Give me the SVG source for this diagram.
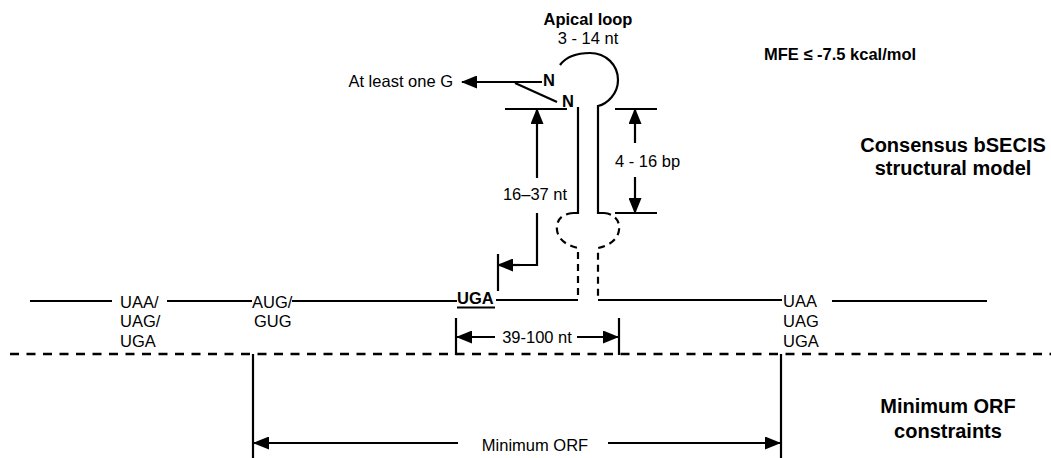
<svg xmlns="http://www.w3.org/2000/svg" width="1051" height="458" viewBox="0 0 1051 458">
<style>
text{font-family:"Liberation Sans",Arial,sans-serif;fill:#000}
.t{font-size:16.5px}
.b{font-size:16.5px;font-weight:bold}
.h{font-size:20px;font-weight:bold}
.m{text-anchor:middle}
.ln{stroke:#000;stroke-width:2.2;fill:none}
.dl{stroke:#000;stroke-width:2.2;fill:none;stroke-dasharray:7 5}
.sep{stroke:#000;stroke-width:2.5;fill:none;stroke-dasharray:9 7.5}
.ar{stroke:#000;stroke-width:2.2;fill:none;marker-end:url(#ah)}
</style>
<defs>
<marker id="ah" viewBox="0 0 16 13" markerWidth="16" markerHeight="13" refX="15" refY="6.5" orient="auto" markerUnits="userSpaceOnUse">
<path d="M0,0 L16,6.5 L0,13 z" fill="#000"/>
</marker>
</defs>
<rect width="1051" height="458" fill="#fff"/>

<g id="sequence-line">
<path class="ln" d="M30,301 H112 M167,301 H252 M292,301 H457 M496,300 H578 M598,300 H782 M832,301 H987"/>
</g>

<g id="hairpin">
<path class="ln" d="M560,65 C566,57 577,53 590,53 C606,53 618,65 618,80 C618,94 607,104 598,106 V213 H604"/>
<path class="ln" d="M578,107 V213 H573"/>
<path class="dl" d="M573,213 C560,214 556,222 557,230 C558,240 568,246 578,248 V300"/>
<path class="dl" d="M604,213 C616,214 620,222 619,230 C618,240 608,246 598,248 V300"/>
</g>

<g id="apical-loop-label">
<text class="b m" x="588" y="25">Apical loop</text>
<text class="t m" x="588" y="44">3 - 14 nt</text>
</g>

<g id="mfe-label">
<text class="b" x="764" y="60">MFE ≤ -7.5 kcal/mol</text>
</g>

<g id="nucleotides">
<text class="b" x="543" y="86">N</text>
<text class="b" x="562" y="107">N</text>
<text class="t" x="453" y="87" text-anchor="end">At least one G</text>
</g>

<g id="stop-codons-left">
<text class="t" x="120" y="308">UAA/</text>
<text class="t" x="120" y="327">UAG/</text>
<text class="t" x="120" y="347">UGA</text>
</g>

<g id="start-codons">
<text class="t" x="252" y="308">AUG/</text>
<text class="t" x="254" y="327">GUG</text>
</g>

<g id="uga-codon">
<text class="b" x="457" y="304">UGA</text>
<line class="ln" x1="457" y1="307.5" x2="495" y2="307.5" stroke-width="1.5"/>
</g>

<g id="stop-codons-right">
<text class="t" x="783" y="307">UAA</text>
<text class="t" x="783" y="327">UAG</text>
<text class="t" x="783" y="347">UGA</text>
</g>

<g id="section-titles">
<text class="h m" x="953" y="152">Consensus bSECIS</text>
<text class="h m" x="953" y="175">structural model</text>
<text class="h m" x="948" y="413">Minimum ORF</text>
<text class="h m" x="948" y="438">constraints</text>
</g>

<g id="connectors">
<line class="ar" x1="542" y1="82" x2="462" y2="82"/>
<line class="ln" x1="515" y1="83" x2="557" y2="102"/>
<line class="ln" x1="505" y1="109" x2="567" y2="109"/>
<line class="ar" x1="537" y1="178" x2="537" y2="109"/>
<path class="ln" d="M537,213 V265 H512"/>
<line class="ar" x1="520" y1="265" x2="498" y2="265"/>
<line class="ln" x1="498" y1="254" x2="498" y2="291"/>
<text class="t m" x="535" y="200">16–37 nt</text>
<line class="ln" x1="615" y1="109" x2="657" y2="109"/>
<line class="ln" x1="615" y1="213" x2="657" y2="213"/>
<line class="ar" x1="635" y1="143" x2="635" y2="109"/>
<line class="ar" x1="635" y1="177" x2="635" y2="213"/>
<text class="t" x="615" y="167">4 - 16 bp</text>
<line class="ln" x1="456" y1="318" x2="456" y2="355"/>
<line class="ln" x1="619" y1="318" x2="619" y2="355"/>
<line class="ar" x1="495" y1="337" x2="457" y2="337"/>
<line class="ar" x1="577" y1="337" x2="618" y2="337"/>
<text class="t m" x="537" y="343">39-100 nt</text>
<line class="sep" x1="10" y1="354" x2="1051" y2="354"/>
<line class="ln" x1="253" y1="354" x2="253" y2="458"/>
<line class="ln" x1="781" y1="354" x2="781" y2="458"/>
<line class="ar" x1="458" y1="443" x2="254" y2="443"/>
<line class="ar" x1="608" y1="443" x2="780" y2="443"/>
<text class="t m" x="535" y="451">Minimum ORF</text>
</g>
</svg>
